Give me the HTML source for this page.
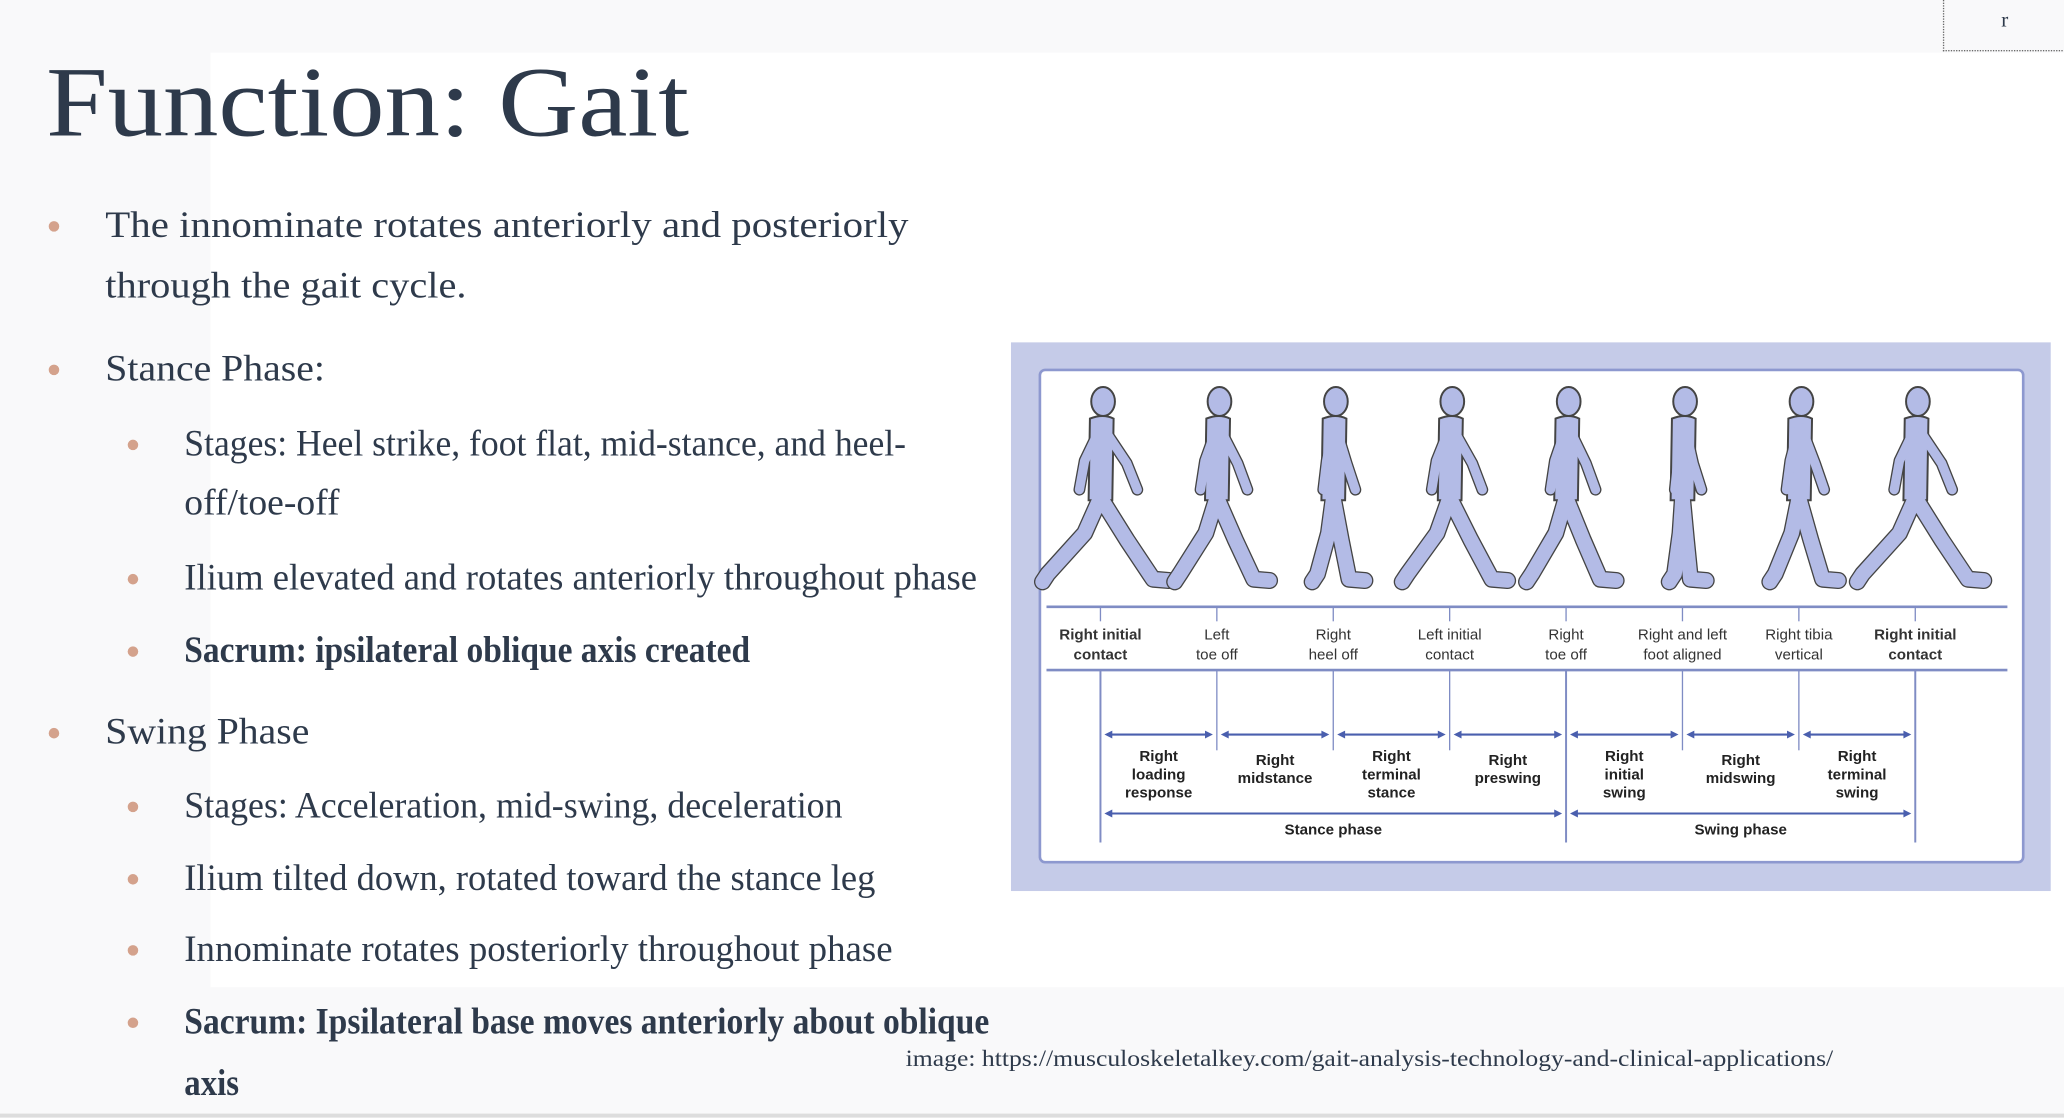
<!DOCTYPE html>
<html><head><meta charset="utf-8">
<style>
html,body{margin:0;padding:0;overflow:hidden;background:#f9f9fa;}
#stage{position:absolute;left:0;top:0;width:1568px;height:849px;transform:scale(1.31633);transform-origin:0 0;background:#f9f9fa;font-family:"Liberation Serif",serif;color:#2e3a4b;}
.abs{position:absolute;white-space:nowrap;}
.dot{position:absolute;width:8px;height:8px;border-radius:50%;background:#d4a28c;}
.t{position:absolute;font-size:28px;line-height:30px;white-space:nowrap;transform-origin:0 0;}
.b{font-weight:bold;}
</style></head><body>
<div id="stage">
  <div class="abs" style="left:160px;top:40px;width:1408px;height:710px;background:#ffffff;"></div>
  <div class="abs" style="left:1476px;top:-2px;width:92px;height:40px;border-left:1px dotted #666;border-bottom:1px dotted #666;font-size:16px;text-align:center;line-height:36px;">r</div>
  <div class="abs" style="left:35px;top:36px;font-size:76px;line-height:84px;transform:scaleX(1.107);transform-origin:0 0;">Function: Gait</div>

  <div class="dot" style="left:37px;top:168px"></div>
  <div class="t" style="left:80px;top:157px;transform:scaleX(1.11)">The innominate rotates anteriorly and posteriorly</div>
  <div class="t" style="left:80px;top:203px;transform:scaleX(1.096)">through the gait cycle.</div>
  <div class="dot" style="left:37px;top:277px"></div>
  <div class="t" style="left:80px;top:266px;transform:scaleX(1.078)">Stance Phase:</div>
  <div class="dot" style="left:97px;top:334px"></div>
  <div class="t" style="left:140px;top:323px;transform:scaleX(0.966)">Stages: Heel strike, foot flat, mid-stance, and heel-</div>
  <div class="t" style="left:140px;top:368px;transform:scaleX(1.02)">off/toe-off</div>
  <div class="dot" style="left:97px;top:436px"></div>
  <div class="t" style="left:140px;top:425px;transform:scaleX(0.993)">Ilium elevated and rotates anteriorly throughout phase</div>
  <div class="dot" style="left:97px;top:491px"></div>
  <div class="t b" style="left:140px;top:480px;transform:scaleX(0.907)">Sacrum: ipsilateral oblique axis created</div>
  <div class="dot" style="left:37px;top:553px"></div>
  <div class="t" style="left:80px;top:542px;transform:scaleX(1.077)">Swing Phase</div>
  <div class="dot" style="left:97px;top:609px"></div>
  <div class="t" style="left:140px;top:598px;transform:scaleX(0.973)">Stages: Acceleration, mid-swing, deceleration</div>
  <div class="dot" style="left:97px;top:664px"></div>
  <div class="t" style="left:140px;top:653px;transform:scaleX(0.99)">Ilium tilted down, rotated toward the stance leg</div>
  <div class="dot" style="left:97px;top:718px"></div>
  <div class="t" style="left:140px;top:707px">Innominate rotates posteriorly throughout phase</div>
  <div class="dot" style="left:97px;top:773px"></div>
  <div class="t b" style="left:140px;top:762px;transform:scaleX(0.91)">Sacrum: Ipsilateral base moves anteriorly about oblique</div>
  <div class="t b" style="left:140px;top:809px;transform:scaleX(0.89)">axis</div>
  <div class="abs" style="left:688px;top:794px;font-size:18px;transform:scaleX(1.083);transform-origin:0 0;">image: https://musculoskeletalkey.com/gait-analysis-technology-and-clinical-applications/</div>
  <div class="abs" style="left:0;top:846px;width:1568px;height:3px;background:#ddd;"></div>

  <svg id="gait" class="abs" style="left:768px;top:260px" width="790" height="417"></svg>
</div>
<script>
const events=[["Right initial","contact"],["Left","toe off"],["Right","heel off"],["Left initial","contact"],["Right","toe off"],["Right and left","foot aligned"],["Right tibia","vertical"],["Right initial","contact"]];
const phases=[["Right","loading","response"],["Right","midstance"],["Right","terminal","stance"],["Right","preswing"],["Right","initial","swing"],["Right","midswing"],["Right","terminal","swing"]];
const strides=[40,28,12,32,26,6,18,40];
const NS="http://www.w3.org/2000/svg";
const svg=document.getElementById('gait');
function mk(tag,attrs,parent){const e=document.createElementNS(NS,tag);for(const k in attrs)e.setAttribute(k,attrs[k]);(parent||svg).appendChild(e);return e;}
const ox=768,oy=260;
function X(i){return 836+i*88.43-ox;}
function Y(y){return y-oy;}
let r=mk('rect',{x:0,y:0,width:790,height:417,fill:'#c5cbe8'});


r=mk('rect',{x:22,y:21,width:747,height:374,rx:4,fill:'#fff',stroke:'#8d98cf','stroke-width':2});


events.forEach((ev,i)=>{
  const cx=X(i),s=strides[i];
  const g=mk('g',{});
  
  
  const hip=[cx,Y(378)];
  const legs=[[hip,[cx+s*0.5,Y(410)],[cx+s,Y(440)],[cx+s+12,Y(441)]],[hip,[cx-s*0.3,Y(405)],[cx-s,Y(436)],[cx-s-4,Y(442)]]];
  const arms=[[[cx+2,Y(325)],[cx+s*0.35+6,Y(352)],[cx+s*0.4+12,Y(372)]],[[cx,Y(325)],[cx-s*0.25-2,Y(350)],[cx-s*0.3-4,Y(372)]]];
  const pl=p=>p.map(q=>q.join(',')).join(' ');
  [[legs,11],[arms,7]].forEach(([set,w])=>set.forEach(p=>{mk('polyline',{points:pl(p),fill:'none',stroke:'#444','stroke-width':w+2,'stroke-linecap':'round','stroke-linejoin':'round'},g);}));
  mk('path',{d:`M${cx-8},${Y(318)} Q${cx+2},${Y(314)} ${cx+10},${Y(318)} L${cx+9},${Y(380)} L${cx-9},${Y(380)} Z`,fill:'#b3bbe6',stroke:'#444','stroke-width':1.5},g);
  [[legs,11],[arms,7]].forEach(([set,w])=>set.forEach(p=>{mk('polyline',{points:pl(p),fill:'none',stroke:'#b3bbe6','stroke-width':w,'stroke-linecap':'round','stroke-linejoin':'round'},g);}));
  mk('ellipse',{cx:cx+2,cy:Y(305),rx:9,ry:11,fill:'#b3bbe6',stroke:'#444','stroke-width':1.5},g);
});
[461,509].forEach(y=>{const l=mk('line',{x1:795-ox,x2:1525-ox,y1:Y(y),y2:Y(y),stroke:'#7f8cc4','stroke-width':2});

});
events.forEach((ev,i)=>{
  const x=X(i);
  mk('line',{x1:x,x2:x,y1:Y(461),y2:Y(472),stroke:'#7f8cc4','stroke-width':1});
  const full=(i===0||i===4||i===7);
  mk('line',{x1:x,x2:x,y1:Y(509),y2:Y(full?640:570),stroke:'#7f8cc4','stroke-width':full?1.5:1});
  const bold=(i===0||i===7);
  ev.forEach((t,k)=>{const tx=mk('text',{x:x,y:Y(486+k*15),'text-anchor':'middle','font-family':'Liberation Sans, sans-serif','font-size':11.5,'font-weight':bold?'bold':'normal',fill:'#333'});tx.textContent=t;
  
  });
});
function arrow(x1,x2,y,name){
  const g=mk('g',{});
  
  
  mk('line',{x1:x1+3,x2:x2-3,y1:y,y2:y,stroke:'#4a5fae','stroke-width':1.6},g);
  mk('path',{d:`M${x1+1},${y} l6,-3 v6 z M${x2-1},${y} l-6,-3 v6 z`,fill:'#4a5fae'},g);
}
phases.forEach((ph,i)=>{
  const a=X(i),b=X(i+1);
  arrow(a+2,b-2,Y(558),'phase-arrow');
  const n=ph.length,y0=n===3?Y(578):Y(581);
  ph.forEach((t,k)=>{const tx=mk('text',{x:(a+b)/2,y:y0+k*14,'text-anchor':'middle','font-family':'Liberation Sans, sans-serif','font-size':11.5,'font-weight':'bold',fill:'#222'});tx.textContent=t;
  
  });
});
arrow(X(0)+2,X(4)-2,Y(618),'stance-phase-arrow');
arrow(X(4)+2,X(7)-2,Y(618),'swing-phase-arrow');
[["Stance phase",(X(0)+X(4))/2],["Swing phase",(X(4)+X(7))/2]].forEach(([t,x])=>{const tx=mk('text',{x:x,y:Y(634),'text-anchor':'middle','font-family':'Liberation Sans, sans-serif','font-size':11.5,'font-weight':'bold',fill:'#222'});tx.textContent=t;

});
</script>
</body></html>
